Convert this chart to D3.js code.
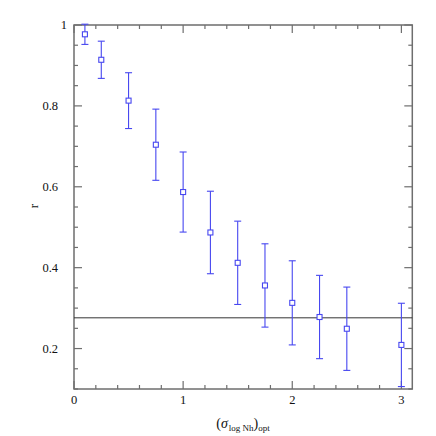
<!DOCTYPE html>
<html><head><meta charset="utf-8">
<script src="https://cdn.jsdelivr.net/npm/d3@7"></script>
<style>body{margin:0;background:#fff}svg{display:block}</style>
</head><body>
<svg id="c" width="436" height="436"></svg>
<script>
const xs = [0.1, 0.25, 0.5, 0.75, 1.0, 1.25, 1.5, 1.75, 2.0, 2.25, 2.5, 3.0];
const rs = [0.977, 0.914, 0.813, 0.704, 0.587, 0.487, 0.412, 0.356, 0.313, 0.278, 0.249, 0.209];
const errs = [0.025, 0.046, 0.069, 0.088, 0.099, 0.102, 0.103, 0.103, 0.104, 0.103, 0.103, 0.103];
const refLine = [0.276];
const xMajor = [0, 1, 2, 3];
const yMajor = [0.2, 0.4, 0.6, 0.8, 1];
const xMinor = d3.range(0, 3.1, 0.2);
const yMinor = d3.range(0.1, 1.0001, 0.05);

const svg = d3.select("#c");
const x = d3.scaleLinear().domain([0, 3.1]).range([74, 412.3]);
const y = d3.scaleLinear().domain([0.1, 1]).range([389, 25]);
const frame = "#6e6e6e", blue = "#4747f0";
const font = "'Liberation Serif', serif";

// frame
svg.append("rect").attr("x", x(0)).attr("y", y(1)).attr("width", x(3.1) - x(0)).attr("height", y(0.1) - y(1))
  .attr("fill", "none").attr("stroke", frame).attr("stroke-width", 1.5);

const g = svg.append("g").attr("stroke", frame).attr("stroke-width", 1.2);
const isMajX = v => xMajor.some(m => Math.abs(m - v) < 1e-6);
const isMajY = v => yMajor.some(m => Math.abs(m - v) < 1e-6);
xMinor.forEach(v => {
  const L = isMajX(v) ? 8 : 4;
  g.append("line").attr("x1", x(v)).attr("x2", x(v)).attr("y1", y(0.1)).attr("y2", y(0.1) - L);
  g.append("line").attr("x1", x(v)).attr("x2", x(v)).attr("y1", y(1)).attr("y2", y(1) + L);
});
yMinor.forEach(v => {
  const L = isMajY(v) ? 8 : 4;
  g.append("line").attr("y1", y(v)).attr("y2", y(v)).attr("x1", x(0)).attr("x2", x(0) + L);
  g.append("line").attr("y1", y(v)).attr("y2", y(v)).attr("x1", x(3.1)).attr("x2", x(3.1) - L);
});

// tick labels
svg.selectAll(".xl").data(xMajor).join("text")
  .attr("x", d => x(d)).attr("y", 404).attr("text-anchor", "middle")
  .attr("font-family", font).attr("font-size", 12.5).attr("fill", "#111").text(d => d);
svg.selectAll(".yl").data(yMajor).join("text")
  .attr("x", d => d === 1 ? 67 : 58).attr("y", d => y(d) + 4).attr("text-anchor", "end")
  .attr("font-family", font).attr("font-size", 12.5).attr("fill", "#111").text(d => d3.format("")(d));

// reference line
svg.selectAll(".ref").data(refLine).join("line")
  .attr("x1", x(0)).attr("x2", x(3.1)).attr("y1", d => y(d)).attr("y2", d => y(d))
  .attr("stroke", "#333").attr("stroke-width", 1);

// error bars
const pts = xs.map((v, i) => ({x: v, r: rs[i], e: errs[i]}));
const eb = svg.append("g").attr("stroke", blue).attr("stroke-width", 1.1);
pts.forEach(p => {
  eb.append("line").attr("x1", x(p.x)).attr("x2", x(p.x)).attr("y1", y(p.r - p.e)).attr("y2", y(p.r + p.e));
  [p.r - p.e, p.r + p.e].forEach(v => {
    eb.append("line").attr("x1", x(p.x) - 3.5).attr("x2", x(p.x) + 3.5).attr("y1", y(v)).attr("y2", y(v));
  });
  eb.append("rect").attr("x", x(p.x) - 2.5).attr("y", y(p.r) - 2.5).attr("width", 5).attr("height", 5)
    .attr("fill", "#fff");
});

// axis labels
svg.append("text").attr("transform", "translate(38,206) rotate(-90)").attr("text-anchor", "middle")
  .attr("font-family", font).attr("font-size", 13).attr("fill", "#111").text("r");
const t = svg.append("text").attr("x", 243).attr("y", 428).attr("text-anchor", "middle")
  .attr("font-family", font).attr("font-size", 14).attr("fill", "#111");
t.append("tspan").text("(");
t.append("tspan").attr("font-style", "italic").text("σ");
t.append("tspan").attr("font-size", 9).attr("dy", 3).attr("dx", 1).text("log Nh");
t.append("tspan").attr("dy", -3).text(")");
t.append("tspan").attr("font-size", 9).attr("dy", 3).text("opt");
</script>
</body></html>
